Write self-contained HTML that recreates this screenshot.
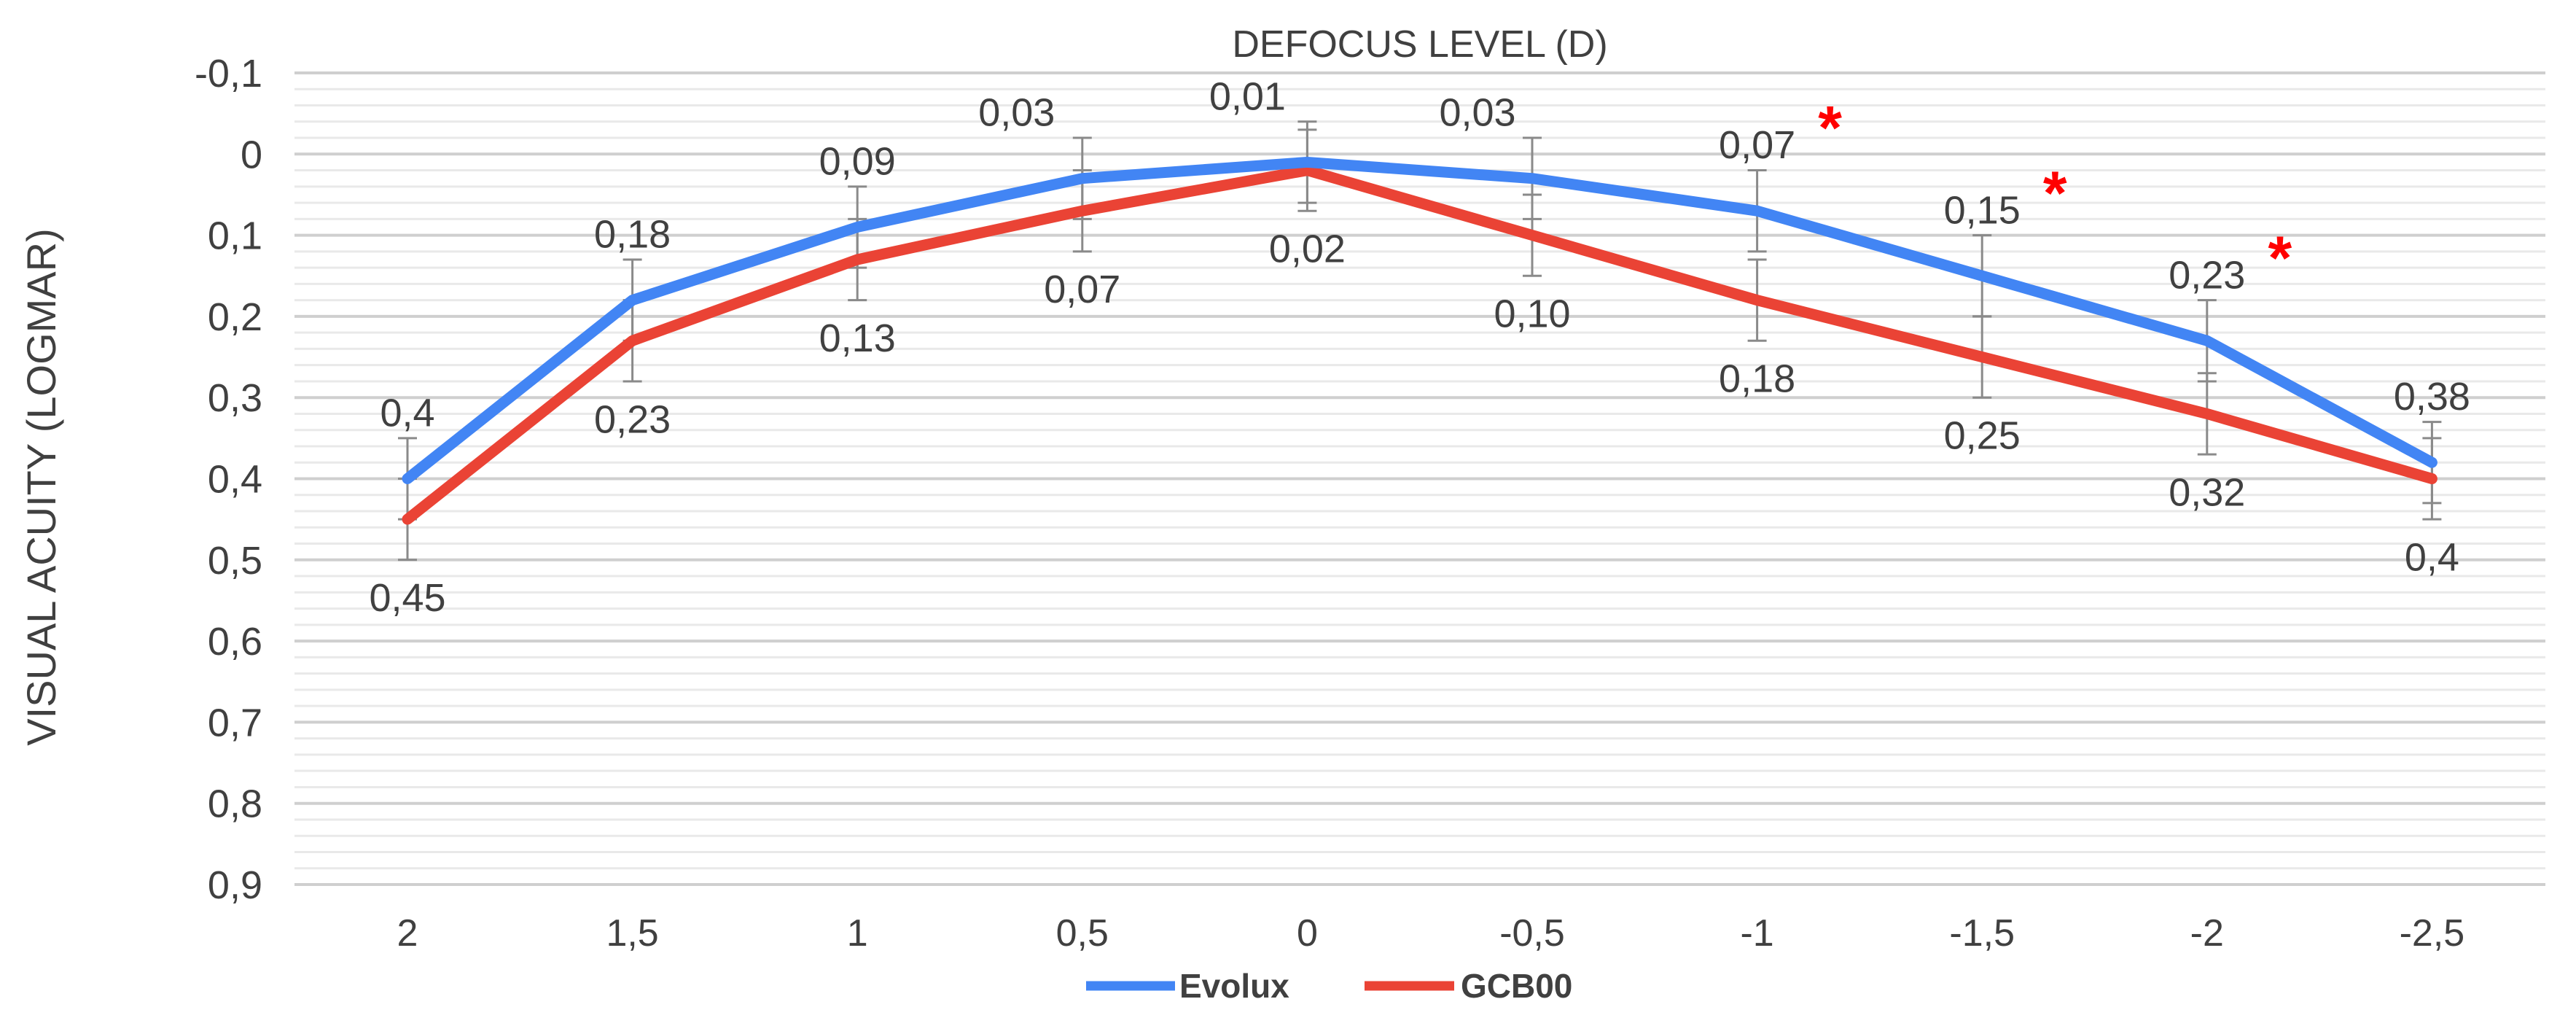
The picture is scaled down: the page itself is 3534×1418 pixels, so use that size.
<!DOCTYPE html>
<html><head><meta charset="utf-8"><style>
html,body{margin:0;padding:0;background:#fff;}
svg{display:block;font-family:"Liberation Sans",Arial,sans-serif;}
</style></head><body>
<svg id="chart" width="3534" height="1418" viewBox="0 0 3534 1418" xmlns="http://www.w3.org/2000/svg">
<text x="1948" y="78" font-size="52" fill="#404040" text-anchor="middle">DEFOCUS LEVEL (D)</text>
<text transform="translate(76,668) rotate(-90)" font-size="56" fill="#404040" text-anchor="middle">VISUAL ACUITY (LOGMAR)</text>
<g id="grid"></g><g id="yticks"></g><g id="xticks"></g><g id="errs"></g><g id="lines"></g><g id="labels"></g>
<g>
<line x1="1490" y1="1352" x2="1612" y2="1352" stroke="#4285F4" stroke-width="13"/>
<text x="1618" y="1368" font-size="46" font-weight="bold" fill="#404040">Evolux</text>
<line x1="1872" y1="1352" x2="1995" y2="1352" stroke="#EA4335" stroke-width="13"/>
<text x="2004" y="1368" font-size="46" font-weight="bold" fill="#404040">GCB00</text>
</g>
</svg>
<script>
const categories = ["2","1,5","1","0,5","0","-0,5","-1","-1,5","-2","-2,5"];
const evolux = [0.40,0.18,0.09,0.03,0.01,0.03,0.07,0.15,0.23,0.38];
const gcb00 = [0.45,0.23,0.13,0.07,0.02,0.10,0.18,0.25,0.32,0.40];
const evoluxErr = [0.05,0.05,0.05,0.05,0.05,0.05,0.05,0.05,0.05,0.05];
const gcb00Err = [0.05,0.05,0.05,0.05,0.05,0.05,0.05,0.05,0.05,0.05];
const evoluxLabels = ["0,4","0,18","0,09","0,03","0,01","0,03","0,07","0,15","0,23","0,38"];
const gcb00Labels = ["0,45","0,23","0,13","0,07","0,02","0,10","0,18","0,25","0,32","0,4"];
const yTicks = [-0.1,0,0.1,0.2,0.3,0.4,0.5,0.6,0.7,0.8,0.9];
const yTickLabels = ["-0,1","0","0,1","0,2","0,3","0,4","0,5","0,6","0,7","0,8","0,9"];
const significant = [false,false,false,false,false,false,true,true,true,false];

const NS="http://www.w3.org/2000/svg";
const PL=404, PR=3492;
function y(v){return 100+(v+0.1)*1113;}
function x(i){return 559+i*308.6;}
function mk(tag,attrs,parent,txt){const e=document.createElementNS(NS,tag);for(const k in attrs)e.setAttribute(k,attrs[k]);if(txt!==undefined)e.textContent=txt;document.getElementById(parent).appendChild(e);return e;}

for(let k=0;k<=50;k++){
  const v=-0.1+k*0.02;
  const major=k%5===0;
  const g=mk('line',{x1:PL,x2:PR,y1:y(v),y2:y(v),stroke:major?'#cfcfcf':'#e9e9e9','stroke-width':major?4:3},'grid');
  
  
}
yTicks.forEach((v,i)=>{
  const t=mk('text',{x:360,y:y(v)+19,'font-size':54,fill:'#404040','text-anchor':'end'},'yticks',yTickLabels[i]);
  
  
});
categories.forEach((c,i)=>{
  const t=mk('text',{x:x(i),y:1297,'font-size':52,fill:'#404040','text-anchor':'middle'},'xticks',c);
  
  
});
function errBars(vals,errs,name){
  vals.forEach((v,i)=>{
    const X=x(i);
    const a=mk('line',{x1:X,x2:X,y1:y(v-errs[i]),y2:y(v+errs[i]),stroke:'#8a8a8a','stroke-width':3},'errs');
    
    
    [v-errs[i],v+errs[i]].forEach(e=>{
      const c=mk('line',{x1:X-13,x2:X+13,y1:y(e),y2:y(e),stroke:'#8a8a8a','stroke-width':3},'errs');
      
      
    });
  });
}
errBars(gcb00,gcb00Err,'gcb00');
errBars(evolux,evoluxErr,'evolux');
function series(vals,color,name){
  const p=mk('polyline',{points:vals.map((v,i)=>x(i)+','+y(v)).join(' '),fill:'none',stroke:color,'stroke-width':15,'stroke-linejoin':'round','stroke-linecap':'round'},'lines');
  
  
}
series(gcb00,'#EA4335','gcb00');
series(evolux,'#4285F4','evolux');
const blueDx=[0,0,0,-90,-82,-75,0,0,0,0];
evolux.forEach((v,i)=>{
  const t=mk('text',{x:x(i)+blueDx[i],y:y(v)-72,'font-size':54,fill:'#404040','text-anchor':'middle'},'labels',evoluxLabels[i]);
  
  
  if(significant[i]){
    const s=mk('text',{x:x(i)+100,y:y(v)-85,'font-size':84,'font-weight':'bold',fill:'#ff0000','text-anchor':'middle'},'labels','*');
    
    
  }
});
gcb00.forEach((v,i)=>{
  const t=mk('text',{x:x(i),y:y(v)+126,'font-size':54,fill:'#404040','text-anchor':'middle'},'labels',gcb00Labels[i]);
  
  
});
</script>
</body></html>
